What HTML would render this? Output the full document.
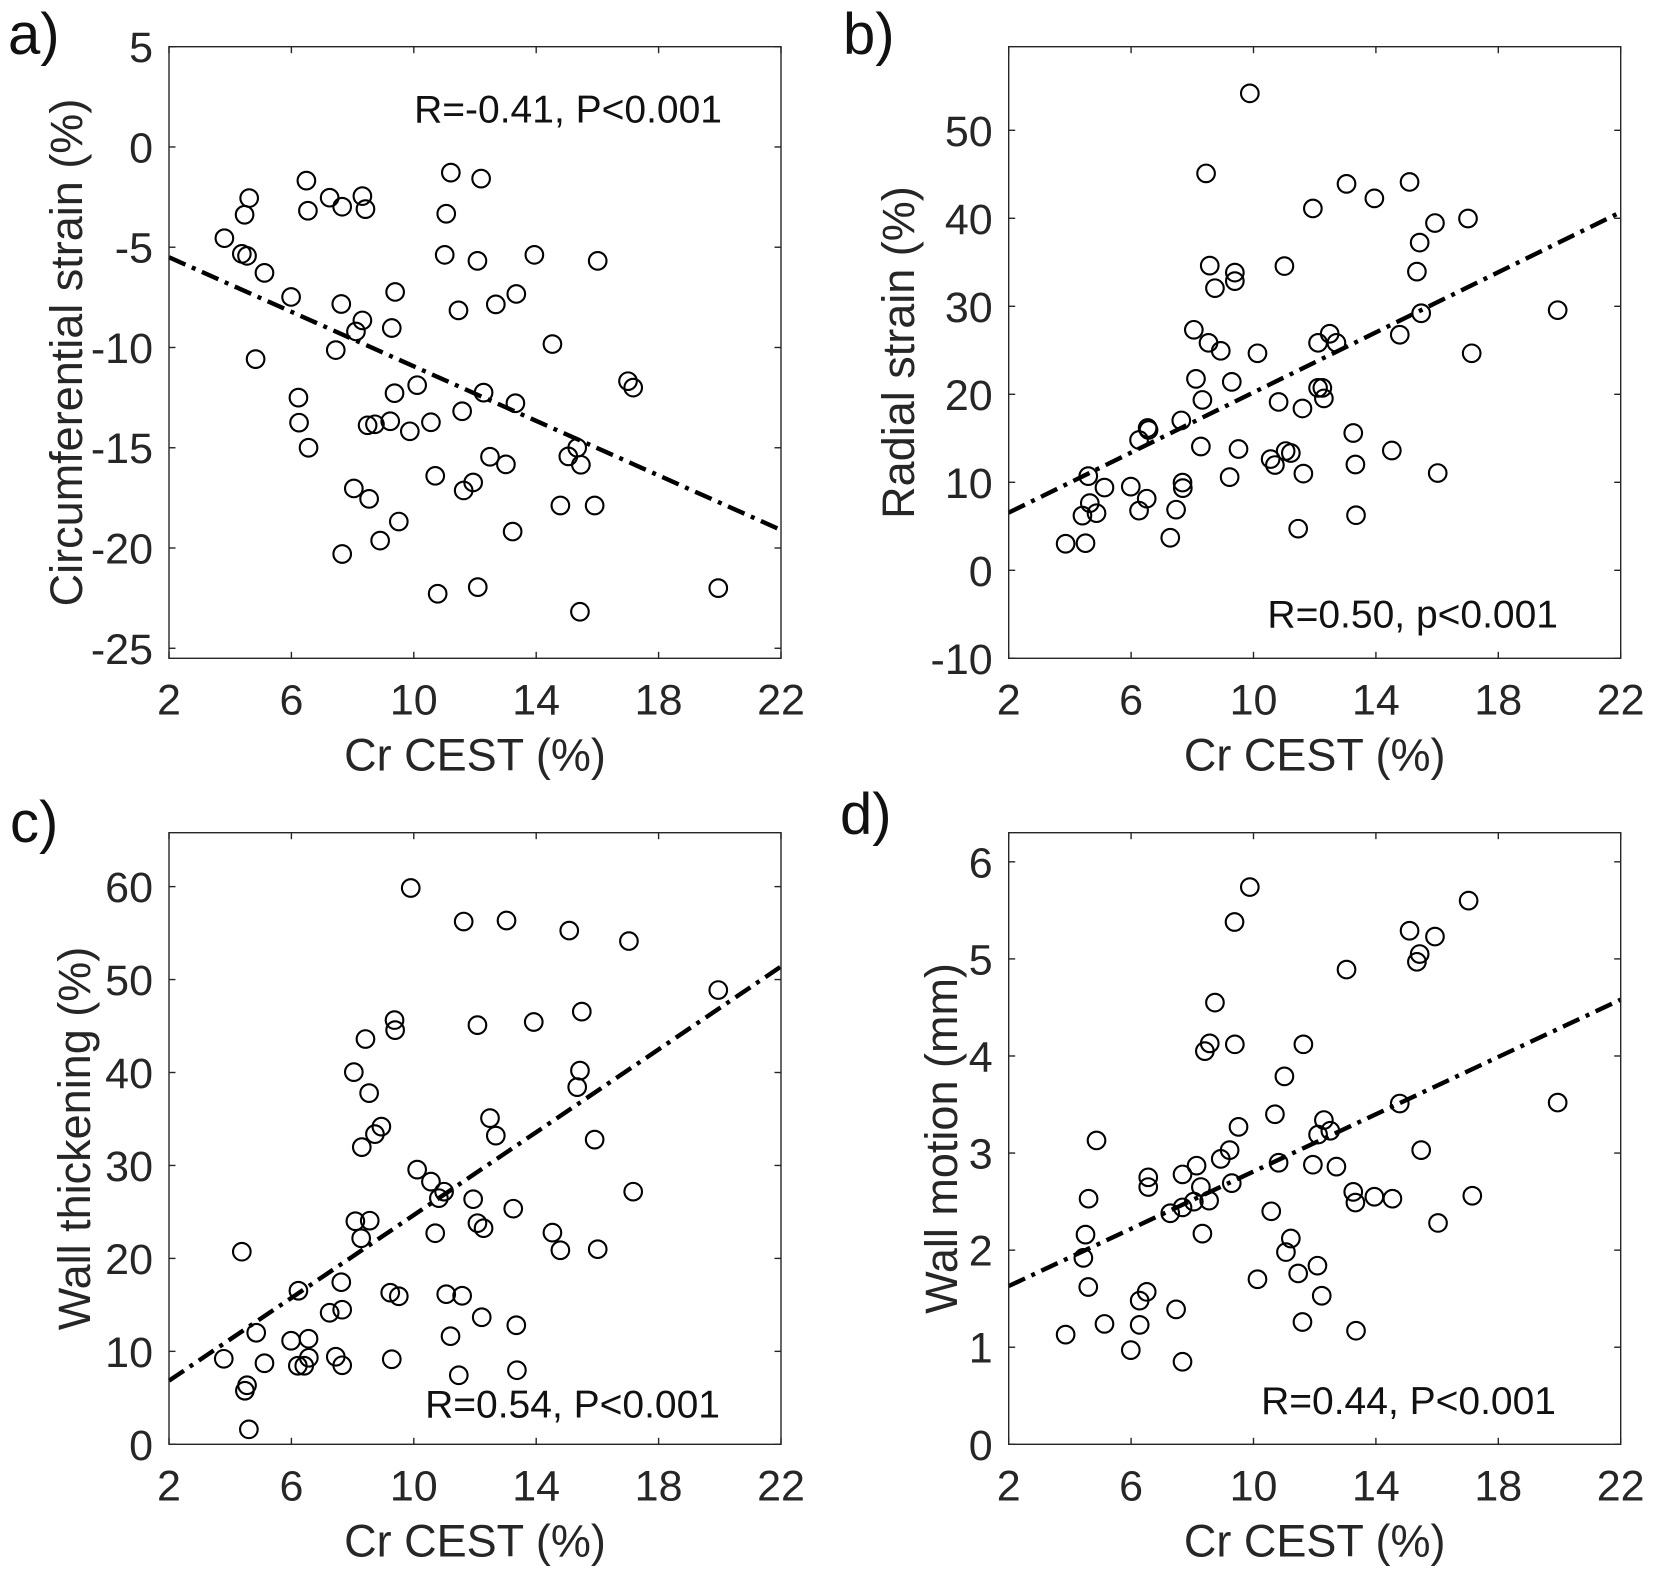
<!DOCTYPE html>
<html><head><meta charset="utf-8"><title>Cr CEST correlations</title>
<style>
html,body{margin:0;padding:0;background:#fff;}
svg{display:block;font-family:"Liberation Sans",Arial,sans-serif;}
</style></head>
<body>
<svg id="fig" width="1654" height="1569" viewBox="0 0 1654 1569" xmlns="http://www.w3.org/2000/svg"></svg>
<script>
// ---- shared x tick labels ----
const xTicks = [2, 6, 10, 14, 18, 22];
const fitXs = [2, 22];

// ---- panel a: circumferential strain ----
const aX = [3.81,4.62,4.47,4.38,4.55,5.12,4.83,5.99,6.49,6.54,6.23,6.25,6.56,7.25,7.66,8.32,8.42,7.63,7.45,8.32,8.11,9.39,9.28,9.37,9.23,8.49,8.73,9.87,10.11,10.56,8.04,8.54,9.51,8.90,7.66,10.70,10.78,11.21,11.06,11.01,12.20,12.08,11.46,11.58,12.28,12.68,13.35,13.94,13.32,12.49,13.01,11.94,11.63,13.23,12.09,14.53,14.79,15.05,15.34,15.46,15.43,16.01,15.91,17.0,17.17,19.95];
const aY = [-4.55,-2.55,-3.38,-5.33,-5.43,-6.28,-10.58,-7.48,-1.68,-3.18,-12.5,-13.75,-15.0,-2.53,-2.98,-2.45,-3.1,-7.83,-10.13,-8.65,-9.2,-7.23,-9.03,-12.28,-13.68,-13.88,-13.83,-14.18,-11.88,-13.73,-17.03,-17.55,-18.68,-19.63,-20.3,-16.4,-22.28,-1.28,-3.33,-5.38,-1.58,-5.68,-8.15,-13.18,-12.25,-7.85,-7.33,-5.38,-12.78,-15.45,-15.83,-16.73,-17.13,-19.18,-21.95,-9.83,-17.88,-15.43,-15.0,-15.85,-23.18,-5.68,-17.88,-11.68,-12.0,-22.0];
const aFit = [-5.5, -19.1];
const aYTicks = [-25, -20, -15, -10, -5, 0, 5];

// ---- panel b: radial strain ----
const bX = [3.86,4.51,4.41,4.87,4.65,4.60,5.13,5.99,6.51,6.26,6.26,6.54,6.57,7.28,7.47,7.68,7.69,7.64,8.05,8.12,8.33,8.28,8.45,8.57,8.53,8.74,8.93,9.29,9.22,9.39,9.39,9.51,9.88,10.13,10.56,10.70,10.82,11.01,11.05,11.22,11.46,11.60,11.63,11.94,12.11,12.11,12.25,12.30,12.49,12.71,13.04,13.26,13.33,13.35,13.95,14.52,14.78,15.10,15.34,15.43,15.48,15.93,16.02,17.01,17.13,19.94];
const bY = [3.02,3.08,6.21,6.49,7.63,10.7,9.40,9.51,8.14,6.78,14.81,16.17,15.95,3.70,6.89,9.97,9.34,17.03,27.33,21.75,19.36,14.07,45.1,34.62,25.85,32.06,24.94,21.41,10.59,33.83,32.86,13.78,54.2,24.66,12.64,11.96,19.13,34.57,13.55,13.33,4.73,18.39,10.99,41.12,25.85,20.73,20.73,19.53,26.88,25.85,43.91,15.6,12.02,6.26,42.26,13.61,26.77,44.13,33.94,37.24,29.21,39.46,11.05,39.98,24.66,29.56];
const bFit = [6.55, 40.7];
const bYTicks = [-10, 0, 10, 20, 30, 40, 50];

// ---- panel c: wall thickening ----
const cX = [3.79,4.38,4.55,4.48,4.61,4.85,5.12,5.99,6.23,6.21,6.42,6.56,6.57,7.25,7.45,7.66,7.63,7.66,8.04,8.09,8.28,8.30,8.42,8.54,8.56,8.73,8.94,9.23,9.28,9.37,9.39,9.51,9.90,10.11,10.56,10.70,10.82,10.99,11.06,11.20,11.47,11.58,11.63,11.94,12.08,12.08,12.28,12.22,12.49,12.68,13.03,13.25,13.35,13.37,13.92,14.53,14.79,15.08,15.34,15.43,15.49,15.91,16.01,17.03,17.17,19.95];
const cY = [9.20,20.72,6.35,5.76,1.61,12.0,8.72,11.14,16.52,8.45,8.45,11.36,9.31,14.15,9.42,14.48,17.44,8.50,40.04,24.0,22.17,31.97,43.6,37.78,24.06,33.37,34.18,16.31,9.15,45.64,44.56,15.93,59.85,29.55,28.26,22.71,26.48,27.18,16.15,11.63,7.43,15.98,56.24,26.37,45.1,23.79,23.25,13.67,35.09,33.21,56.35,25.35,12.81,7.97,45.43,22.77,20.88,55.27,38.43,40.2,46.55,32.78,20.99,54.14,27.18,48.87];
const cFit = [6.84, 51.4];
const cYTicks = [0, 10, 20, 30, 40, 50, 60];

// ---- panel d: wall motion ----
const dX = [3.86,4.44,4.51,4.60,4.61,4.87,5.13,5.99,6.28,6.28,6.51,6.56,6.56,7.28,7.47,7.68,7.68,7.68,8.05,8.14,8.28,8.33,8.41,8.57,8.55,8.74,8.93,9.22,9.29,9.38,9.39,9.51,9.88,10.13,10.58,10.70,10.82,11.01,11.06,11.22,11.46,11.60,11.63,11.94,12.09,12.11,12.23,12.30,12.51,12.71,13.04,13.26,13.33,13.35,13.95,14.54,14.78,15.10,15.34,15.43,15.48,15.93,16.03,17.03,17.15,19.94];
const dY = [1.13,1.92,2.16,1.62,2.53,3.13,1.24,0.97,1.23,1.48,1.57,2.75,2.65,2.38,1.39,2.78,2.44,0.85,2.50,2.87,2.65,2.17,4.05,4.13,2.51,4.55,2.94,3.03,2.69,5.38,4.12,3.27,5.74,1.70,2.40,3.40,2.90,3.79,1.98,2.12,1.76,1.26,4.12,2.88,1.84,3.19,1.53,3.34,3.23,2.86,4.89,2.60,2.49,1.17,2.55,2.53,3.51,5.29,4.97,5.05,3.03,5.23,2.28,5.60,2.56,3.52];
const dFit = [1.63, 4.58];
const dYTicks = [0, 1, 2, 3, 4, 5, 6];

const NS = "http://www.w3.org/2000/svg";
const svg = document.getElementById('fig');
const TXT = '#262626';

function mk(tag, attrs, parent) {
  const e = document.createElementNS(NS, tag);
  for (const k in attrs) e.setAttribute(k, attrs[k]);
  (parent || svg).appendChild(e);
  return e;
}

const panels = [
  {key:'a', label:'a)', lx:8, ly:54, x0:169, y0:46.7, ymin:-25.5, ymax:5, xs:aX, ys:aY, fit:aFit, yticks:aYTicks,
   ylabel:'Circumferential strain (%)', ylx:82, ann:'R=-0.41, P<0.001', annX:722, annY:122.5},
  {key:'b', label:'b)', lx:843, ly:54, x0:1008.7, y0:46.7, ymin:-10, ymax:59.5, xs:bX, ys:bY, fit:bFit, yticks:bYTicks,
   ylabel:'Radial strain (%)', ylx:914, ann:'R=0.50, p<0.001', annX:1558, annY:627.5},
  {key:'c', label:'c)', lx:10, ly:842, x0:169, y0:832.7, ymin:0, ymax:65.8, xs:cX, ys:cY, fit:cFit, yticks:cYTicks,
   ylabel:'Wall thickening (%)', ylx:90, ann:'R=0.54, P<0.001', annX:720, annY:1417.5},
  {key:'d', label:'d)', lx:840, ly:834, x0:1008.7, y0:832.7, ymin:0, ymax:6.3, xs:dX, ys:dY, fit:dFit, yticks:dYTicks,
   ylabel:'Wall motion (mm)', ylx:957, ann:'R=0.44, P<0.001', annX:1556, annY:1414}
];

const W = 612, H = 611.6, XMIN = 2, XMAX = 22;

panels.forEach(p => {
  const g = mk('g', {});
  
  
  const sx = v => p.x0 + (v - XMIN) / (XMAX - XMIN) * W;
  const sy = v => p.y0 + H - (v - p.ymin) / (p.ymax - p.ymin) * H;
  const bottom = p.y0 + H, right = p.x0 + W;

  const lab = mk('text', {x:p.lx, y:p.ly, 'font-size':58, fill:'#111'}, g);
  lab.textContent = p.label;
  
  

  // fit line
  const fl = mk('line', {x1:sx(fitXs[0]), y1:sy(p.fit[0]), x2:sx(fitXs[1]), y2:sy(p.fit[1]),
    stroke:'#000', 'stroke-width':4.4, 'stroke-dasharray':'18 7 4 7'}, g);
  
  

  // points
  for (let i = 0; i < p.xs.length; i++) {
    const c = mk('circle', {cx:sx(p.xs[i]), cy:sy(p.ys[i]), r:8.8, fill:'none', stroke:'#000', 'stroke-width':2.1}, g);
    
    
  }

  // axes box
  const box = mk('rect', {x:p.x0, y:p.y0, width:W, height:H, fill:'none', stroke:TXT, 'stroke-width':1.4}, g);
  
  

  // x ticks
  xTicks.forEach(t => {
    const x = sx(t);
    mk('line', {x1:x, y1:bottom, x2:x, y2:bottom - 6.5, stroke:TXT, 'stroke-width':1.4}, g);
    mk('line', {x1:x, y1:p.y0, x2:x, y2:p.y0 + 6.5, stroke:TXT, 'stroke-width':1.4}, g);
    const tl = mk('text', {x:x, y:bottom + 56, 'font-size':43, fill:TXT, 'text-anchor':'middle'}, g);
    tl.textContent = t;
    
    
  });
  // y ticks
  p.yticks.forEach(t => {
    const y = sy(t);
    mk('line', {x1:p.x0, y1:y, x2:p.x0 + 6.5, y2:y, stroke:TXT, 'stroke-width':1.4}, g);
    mk('line', {x1:right, y1:y, x2:right - 6.5, y2:y, stroke:TXT, 'stroke-width':1.4}, g);
    const tl = mk('text', {x:p.x0 - 16, y:y + 15.5, 'font-size':43, fill:TXT, 'text-anchor':'end'}, g);
    tl.textContent = t;
    
    
  });

  // x label
  const xl = mk('text', {x:p.x0 + W / 2, y:bottom + 112, 'font-size':45, fill:TXT, 'text-anchor':'middle'}, g);
  xl.textContent = 'Cr CEST (%)';
  
  

  // y label
  const cy = p.y0 + H / 2;
  const yl = mk('text', {x:p.ylx, y:cy, 'font-size':45, fill:TXT, 'text-anchor':'middle',
    transform:'rotate(-90 ' + p.ylx + ' ' + cy + ')'}, g);
  yl.textContent = p.ylabel;
  
  

  // annotation
  const an = mk('text', {x:p.annX, y:p.annY, 'font-size':39, fill:'#111', 'text-anchor':'end'}, g);
  an.textContent = p.ann;
  
  
});
</script>
</body></html>
